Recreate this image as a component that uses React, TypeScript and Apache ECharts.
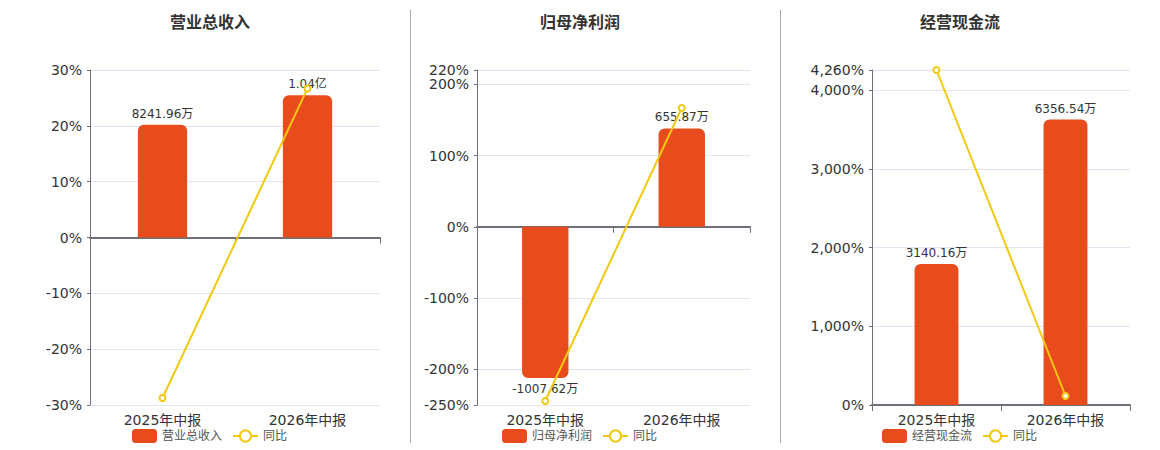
import React, { useEffect, useRef } from "react";
import * as echarts from "echarts";

const categories = ["2025年中报", "2026年中报"];
const panelTitles = ["营业总收入", "归母净利润", "经营现金流"];
const yoyName = "同比";

// values in 万元
const revenue = [8241.96, 10400];
const netProfit = [-1007.62, 655.87];
const cashFlow = [3140.16, 6356.54];

// year-on-year, %
const revenueYoY = [-28.75, 26.7];
const netProfitYoY = [-244.4, 166.7];
const cashFlowYoY = [4260, 114.5];

// percent axis extents and the matching bar axis top
const pctAxisMin = [-30, -250, 0];
const pctAxisMax = [30, 220, 4260];
const barAxisMax = [12250, 1045, 7460];

const barValues = [revenue, netProfit, cashFlow];
const yoyValues = [revenueYoY, netProfitYoY, cashFlowYoY];

const BAR_COLOR = "#e84c1d";
const LINE_COLOR = "#f2c811";
const FONT = "DejaVu Sans, Noto Sans CJK SC, sans-serif";

// panel layout (px)
const panels = [
  { left: 90, width: 290, center: 210, legendLeft: 132 },
  { left: 477, width: 273, center: 580, legendLeft: 502 },
  { left: 872, width: 258, center: 960, legendLeft: 882 },
];

const fmtMoney = (v: number) =>
  Math.abs(v) >= 10000 ? (v / 10000).toFixed(2) + "亿" : v.toFixed(2) + "万";

const App = () => {
  const chartRef = useRef<HTMLDivElement>(null);

  useEffect(() => {
    document.body.style.margin = "0";
    const chart = echarts.init(chartRef.current, null, { renderer: "svg" });

    const grid: any[] = [];
    const xAxis: any[] = [];
    const yAxis: any[] = [];
    const series: any[] = [];
    const title: any[] = [];
    const legend: any[] = [];

    panels.forEach((p, i) => {
      grid.push({ left: p.left, width: p.width, top: 70, height: 335 });

      // labels at the bottom
      xAxis.push({
        type: "category",
        gridIndex: i,
        position: "bottom",
        data: categories,
        axisLine: { show: false, onZero: false },
        axisTick: { show: false },
        axisLabel: { color: "#333", fontSize: 14, margin: 8 },
      });
      // the zero line with ticks
      xAxis.push({
        type: "category",
        gridIndex: i,
        position: "top",
        data: categories,
        axisLine: {
          onZero: true,
          onZeroAxisIndex: i * 2,
          lineStyle: { color: "#6e7079", width: 2 },
        },
        axisTick: { show: true, inside: true, length: 6, lineStyle: { color: "#6e7079" } },
        axisLabel: { show: false },
      });

      yAxis.push({
        type: "value",
        gridIndex: i,
        min: pctAxisMin[i],
        max: pctAxisMax[i],
        axisLine: { show: true, lineStyle: { color: "#6e7079" } },
        axisTick: { show: true, length: 3 },
        axisLabel: {
          color: "#333",
          fontSize: 14,
          formatter: (v: number) => v.toLocaleString("en-US") + "%",
        },
        splitLine: { lineStyle: { color: "#e0e6f1" } },
      });
      yAxis.push({
        type: "value",
        gridIndex: i,
        show: false,
        min: (barAxisMax[i] * pctAxisMin[i]) / pctAxisMax[i],
        max: barAxisMax[i],
        splitLine: { show: false },
      });

      series.push({
        name: panelTitles[i],
        type: "bar",
        xAxisIndex: i * 2,
        yAxisIndex: i * 2 + 1,
        barWidth: "34%",
        data: barValues[i].map((v) => ({
          value: v,
          itemStyle: { borderRadius: v < 0 ? [0, 0, 6, 6] : [6, 6, 0, 0] },
          label: { position: v < 0 ? "bottom" : "top" },
        })),
        itemStyle: { color: BAR_COLOR },
        label: {
          show: true,
          color: "#333",
          fontSize: 12,
          formatter: (prm: any) => fmtMoney(prm.value),
        },
        z: 2,
      });
      series.push({
        name: yoyName,
        type: "line",
        xAxisIndex: i * 2,
        yAxisIndex: i * 2,
        data: yoyValues[i],
        symbol: "emptyCircle",
        symbolSize: 6,
        lineStyle: { color: LINE_COLOR, width: 2 },
        itemStyle: { color: LINE_COLOR },
        z: 3,
      });

      title.push({
        text: panelTitles[i],
        left: p.center,
        top: 14,
        padding: 0,
        textAlign: "center",
        textStyle: { fontSize: 16, fontWeight: "bold", color: "#333", fontFamily: FONT },
      });
      legend.push({
        data: [panelTitles[i], yoyName],
        left: p.legendLeft,
        top: 429,
        padding: 0,
        itemWidth: 25,
        itemHeight: 14,
        itemGap: 10,
        textStyle: { fontSize: 12, color: "#555" },
      });
    });

    chart.setOption({
      animation: false,
      textStyle: { fontFamily: FONT },
      title,
      legend,
      grid,
      xAxis,
      yAxis,
      series,
      graphic: [410, 780].map((x) => ({
        type: "line",
        shape: { x1: x + 0.5, y1: 10, x2: x + 0.5, y2: 443 },
        style: { stroke: "#aaa", lineWidth: 1 },
      })),
    });

    return () => chart.dispose();
  }, []);

  return <div ref={chartRef} style={{ width: "1160px", height: "450px" }} />;
};

export default App;
